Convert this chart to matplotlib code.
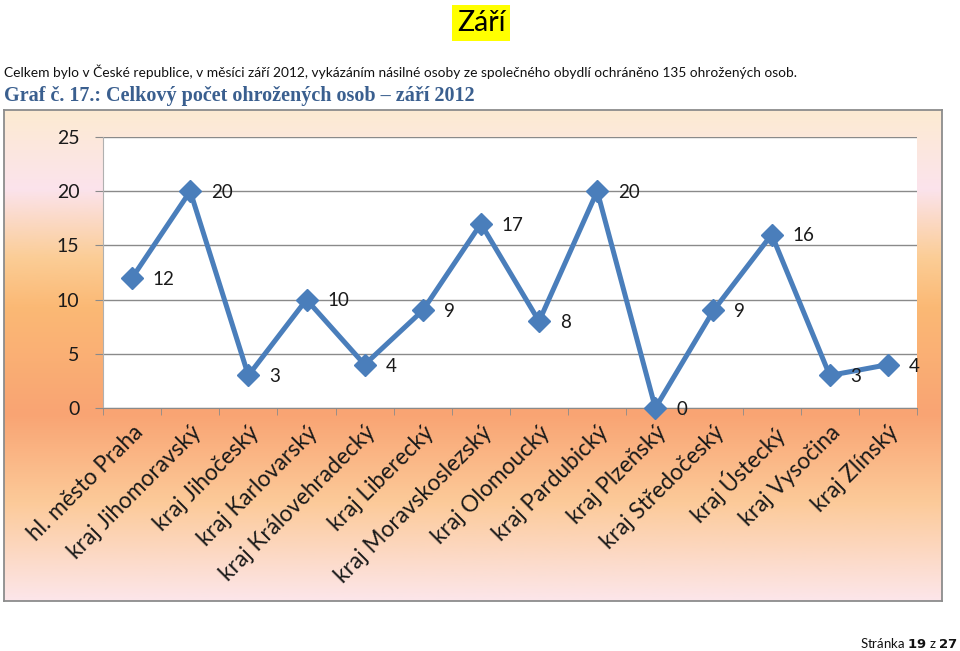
import numpy as np
import matplotlib
matplotlib.use("Agg")
import matplotlib.pyplot as plt
from matplotlib.colors import LinearSegmentedColormap

# data
kraje = ["hl. město Praha", "kraj Jihomoravský", "kraj Jihočeský", "kraj Karlovarský",
         "kraj Královehradecký", "kraj Liberecký", "kraj Moravskoslezský", "kraj Olomoucký",
         "kraj Pardubický", "kraj Plzeňský", "kraj Středočeský", "kraj Ústecký",
         "kraj Vysočina", "kraj Zlínský"]
pocet = [12, 20, 3, 10, 4, 9, 17, 8, 20, 0, 9, 16, 3, 4]
y_ticks = [0, 5, 10, 15, 20, 25]

plt.rcParams['font.family'] = ['Lato', 'DejaVu Sans']

W, H = 960, 651
fig = plt.figure(figsize=(W / 100, H / 100), dpi=100)
fig.patch.set_facecolor("white")

def fx(px):
    return px / W

def fy(py):
    return 1 - py / H

# header texts
fig.text(fx(481), fy(23), "Září", ha="center", va="center", fontsize=20.5,
         bbox=dict(facecolor="#ffff00", edgecolor="none", pad=3.5))
fig.text(fx(4), fy(72), "Celkem bylo v České republice, v měsíci září 2012, vykázáním násilné osoby "
         "ze společného obydlí ochráněno 135 ohrožených osob.",
         ha="left", va="center", fontsize=9.9, color="#111111")
fig.text(fx(4), fy(96), "Graf č. 17.: Celkový počet ohrožených osob – září 2012",
         ha="left", va="center", fontsize=14.5, fontweight="bold", color="#3a5f8f",
         family=["Liberation Serif", "DejaVu Serif"])
fig.text(fx(958), fy(643), "Stránka $\\bf{19}$ z $\\bf{27}$", ha="right", va="center",
         fontsize=9.5, color="#111111")

# chart frame with vertical gradient
fr = fig.add_axes([fx(4), fy(601), fx(942) - fx(4), fy(110) - fy(601)])
grad = LinearSegmentedColormap.from_list("sunset", [
    (0.00, "#fdebd2"),
    (0.16, "#fbe3ec"),
    (0.30, "#fbcd96"),
    (0.40, "#fbb975"),
    (0.62, "#f9a473"),
    (0.80, "#fcca99"),
    (1.00, "#fce6ea"),
])
fr.imshow(np.linspace(0, 1, 256).reshape(-1, 1), aspect="auto", cmap=grad,
          extent=[0, 1, 0, 1], origin="upper")
fr.set_xticks([])
fr.set_yticks([])
for s in fr.spines.values():
    s.set_color("#8c8c8c")
    s.set_linewidth(1.3)

# plot area
ax = fig.add_axes([fx(103), fy(408), fx(917) - fx(103), fy(137) - fy(408)])
ax.set_facecolor("white")
x = np.arange(len(kraje))
ax.plot(x, pocet, color="#4a7ebb", lw=3.6, marker="D", markersize=11,
        markeredgecolor="#4a7ebb", zorder=4, clip_on=False)
for xi, v in zip(x, pocet):
    ax.annotate(str(v), (xi, v), textcoords="offset points", xytext=(15, -1),
                ha="left", va="center", fontsize=13.5, color="#1a1a1a", zorder=5)

ax.set_xlim(-0.5, len(kraje) - 0.5)
ax.set_ylim(0, 25)
ax.set_yticks(y_ticks)
ax.set_yticklabels([str(t) for t in y_ticks], fontsize=14, color="#1a1a1a")
ax.yaxis.grid(True, color="#8a8a8a", lw=1)
ax.set_axisbelow(True)

ax.set_xticks(x)
ax.set_xticklabels(kraje, rotation=45, ha="right", va="top", rotation_mode="anchor",
                   fontsize=16.3, color="#1a1a1a")
ax.set_xticks(np.arange(-0.5, len(kraje)), minor=True)
ax.tick_params(axis="x", which="major", length=0, pad=10)
ax.tick_params(axis="x", which="minor", length=5, color="#8a8a8a", direction="out")
ax.tick_params(axis="y", length=6, color="#8a8a8a", pad=11)

for side in ["top", "right"]:
    ax.spines[side].set_visible(False)
ax.spines["left"].set_color("#b0b0b0")
ax.spines["bottom"].set_color("#8a8a8a")

fig.savefig("out.png", dpi=100)
